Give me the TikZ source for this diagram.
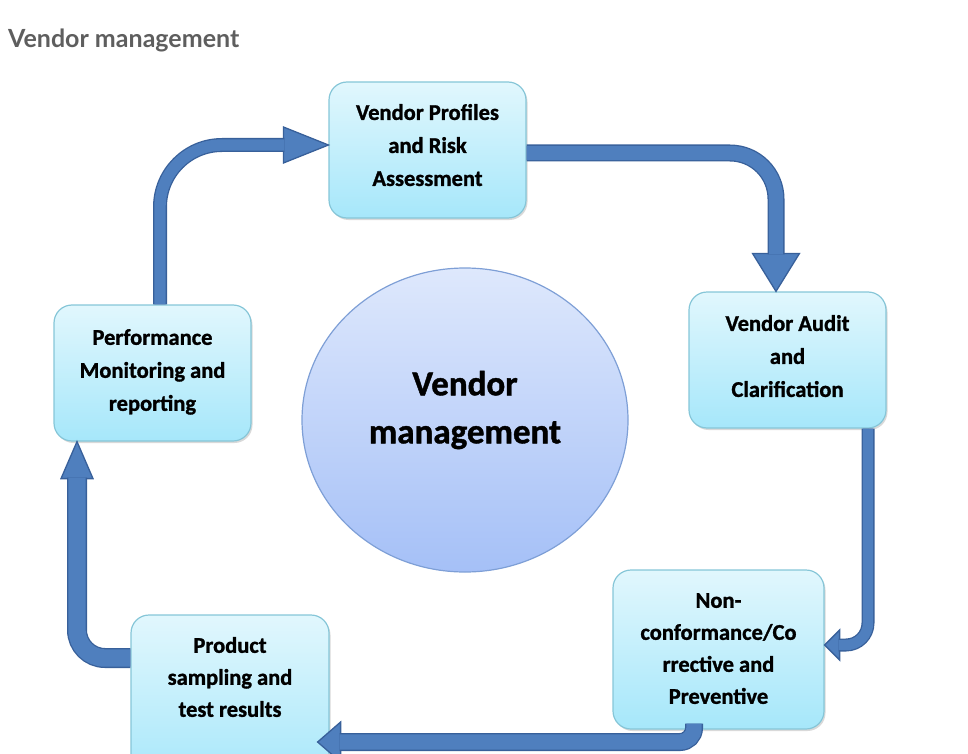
\documentclass[tikz,border=0pt]{standalone}
\usepackage{fontspec}
\setmainfont{Carlito}[BoldFeatures={FakeBold=1.2}]
\newfontfamily\latofont{Lato}
\usetikzlibrary{shapes.geometric,shadows}
\definecolor{boxtop}{HTML}{E1F7FD}
\definecolor{boxbot}{HTML}{A6E7FA}
\definecolor{boxline}{HTML}{86C6D8}
\definecolor{circtop}{HTML}{DEE8FC}
\definecolor{circbot}{HTML}{A5C0F7}
\definecolor{circline}{HTML}{7E9FD6}
\definecolor{arrowfill}{HTML}{4F7FBE}
\definecolor{arrowline}{HTML}{38609A}
\definecolor{titlegray}{HTML}{5E5E5E}
\begin{document}
\begin{tikzpicture}[x=1pt,y=-1pt,
  stepbox/.style={rectangle, rounded corners=18pt, draw=boxline, line width=1.2pt,
    top color=boxtop, bottom color=boxbot, minimum width=197pt, minimum height=136pt,
    align=center, font=\bfseries\fontsize{22.5}{33}\selectfont, inner sep=0pt, text depth=8pt,
    drop shadow={shadow xshift=1.5pt, shadow yshift=-2pt, opacity=0.3}},
  boxtxt/.style={align=center, font=\bfseries\fontsize{22.5}{32}\selectfont, inner sep=0pt},
  shaft/.style={draw=arrowline, line width=1.3pt, double=arrowfill, double distance=#1},
  headst/.style={draw=arrowline, fill=arrowfill, line width=1.3pt, line join=miter}]
\useasboundingbox (0,0) rectangle (968,754);
\clip (0,0) rectangle (968,754);

\node[anchor=base west, font=\latofont\bfseries\fontsize{25}{28}\selectfont, text=titlegray, inner sep=0pt] (title) at (8,48) {Vendor management};

% central circle
\node[ellipse, minimum width=326pt, minimum height=304pt, draw=circline, line width=1.2pt,
  top color=circtop, bottom color=circbot, inner sep=0pt] (hub) at (465,420) {};
\node[align=center, font=\bfseries\fontsize{35}{48}\selectfont, inner sep=0pt] (hubtxt) at (465,410) {Vendor\\management};

% boxes
\node[stepbox, text depth=10pt] (top) at (427.5,150) {Vendor Profiles\\and Risk\\Assessment};
\node[stepbox] (audit) at (787.5,360) {Vendor Audit\\and\\Clarification};
\node[stepbox, minimum width=211pt, minimum height=159pt, text depth=2pt, font=\bfseries\fontsize{22.5}{32}\selectfont] (nc) at (718.5,649.5) {Non-\\conformance/Co\\rrective and\\Preventive};
\node[stepbox, minimum width=198pt, minimum height=170pt] (prod) at (230,700) {};
\node[boxtxt] (prodtxt) at (230,677) {Product\\sampling and\\test results};
\node[stepbox, text depth=6pt] (perf) at (152.5,373) {Performance\\Monitoring and\\reporting};

% arrow 1: perf -> top
\coordinate (s1) at ([xshift=7.5pt]perf.north);
\coordinate (t1) at ([yshift=5pt]top.west);
\draw[headst] (t1) -- ++(-45,-18) -- ++(0,36) -- cycle;
\draw[shaft=11.4, rounded corners=62pt] (s1) |- ([xshift=-44pt]t1);

% arrow 2: top -> audit
\coordinate (s2) at ([yshift=-3pt]top.east);
\coordinate (t2) at ([xshift=-11.5pt]audit.north);
\draw[headst] (t2) -- ++(-23.5,-38) -- ++(47,0) -- cycle;
\draw[shaft=14.4, rounded corners=46pt] (s2) -| ([yshift=37pt]t2);

% arrow 3: audit -> nc
\coordinate (s3) at ([xshift=80.5pt]audit.south);
\coordinate (t3) at ([yshift=4.5pt]nc.east);
\draw[headst] (t3) -- ++(15,-15) -- ++(0,30) -- cycle;
\draw[shaft=10.4, rounded corners=22pt] (s3) |- ([xshift=14pt]t3);

% arrow 4: nc -> prod
\coordinate (s4) at ([xshift=-24.5pt,yshift=6pt]nc.south);
\coordinate (t4) at ([xshift=-12pt,yshift=-42pt]prod.east);
\draw[headst] (t4) -- ++(23,-20) -- ++(0,40) -- cycle;
\draw[shaft=15.4, rounded corners=14pt] (s4) |- ([xshift=22pt]t4);

% arrow 5: prod -> perf
\coordinate (s5) at ([yshift=42pt]prod.west);
\coordinate (t5) at ([xshift=-75.5pt]perf.south);
\draw[headst] (t5) -- ++(-16,37) -- ++(32,0) -- cycle;
\draw[shaft=17.4, rounded corners=28pt] (s5) -| ([yshift=-36pt]t5);
\end{tikzpicture}
\end{document}
